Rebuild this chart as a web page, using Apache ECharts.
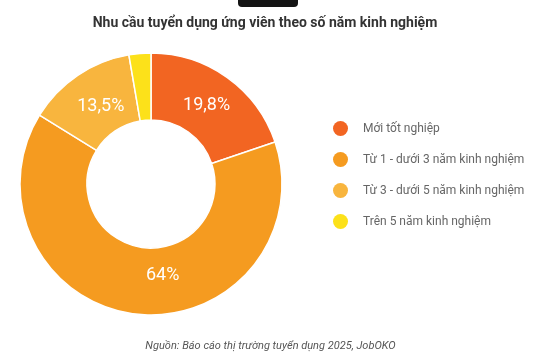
<!DOCTYPE html>
<html>
<head>
<meta charset="utf-8">
<script src="https://cdn.jsdelivr.net/npm/echarts@6/dist/echarts.min.js"></script>
<style>html,body{margin:0;padding:0;background:#fff;}#c{width:541px;height:362px;}</style>
</head>
<body>
<div id="c"></div>
<script>
const categories = ['Mới tốt nghiệp', 'Từ 1 - dưới 3 năm kinh nghiệm', 'Từ 3 - dưới 5 năm kinh nghiệm', 'Trên 5 năm kinh nghiệm'];
const values = [19.8, 64, 13.5, 2.7];
const labels = ['19,8%', '64%', '13,5%', ''];
const colors = ['#F26522', '#F59B20', '#F8B53E', '#FCE11A'];
const titleText = 'Nhu cầu tuyển dụng ứng viên theo số năm kinh nghiệm';
const sourceText = 'Nguồn: Báo cáo thị trường tuyển dụng 2025, JobOKO';

const labelOffsets = [[-3, 3], [23, -8], [6, 6], [0, 0]];

const chart = echarts.init(document.getElementById('c'));
chart.setOption({
  backgroundColor: '#ffffff',
  animation: false,
  title: {
    text: titleText,
    left: 260, top: 11, textAlign: 'center',
    textStyle: { fontFamily: 'Roboto', fontSize: 14, fontWeight: 'bold', color: '#333333' }
  },
  graphic: [
    { type: 'rect', shape: { x: 238, y: -6, width: 60, height: 13, r: 4 }, style: { fill: '#141414' } },
    { type: 'text', left: 'center', top: 341, style: { text: sourceText, font: 'italic 11px Roboto', fill: '#555555' } }
  ],
  legend: {
    orient: 'vertical', left: 328, top: 116,
    icon: 'circle', itemWidth: 15, itemHeight: 15, itemGap: 16, itemStyle: {borderWidth: 0},
    textStyle: { fontFamily: 'Roboto', fontSize: 12, color: '#666666', padding: [0, 0, 0, 10] },
    data: categories
  },
  series: [{
    type: 'pie',
    center: [151, 184],
    radius: [64, 131],
    startAngle: 90,
    clockwise: true,
    avoidLabelOverlap: false,
    itemStyle: { borderColor: '#ffffff', borderWidth: 1.5 },
    label: {
      show: true, position: 'inside',
      fontFamily: 'Roboto', fontSize: 18, color: '#ffffff',
      formatter: p => labels[p.dataIndex]
    },
    labelLine: { show: false },
    data: categories.map((n, i) => ({
      name: n, value: values[i],
      itemStyle: { color: colors[i] },
      label: { offset: labelOffsets[i] }
    }))
  }]
});
</script>
</body>
</html>
